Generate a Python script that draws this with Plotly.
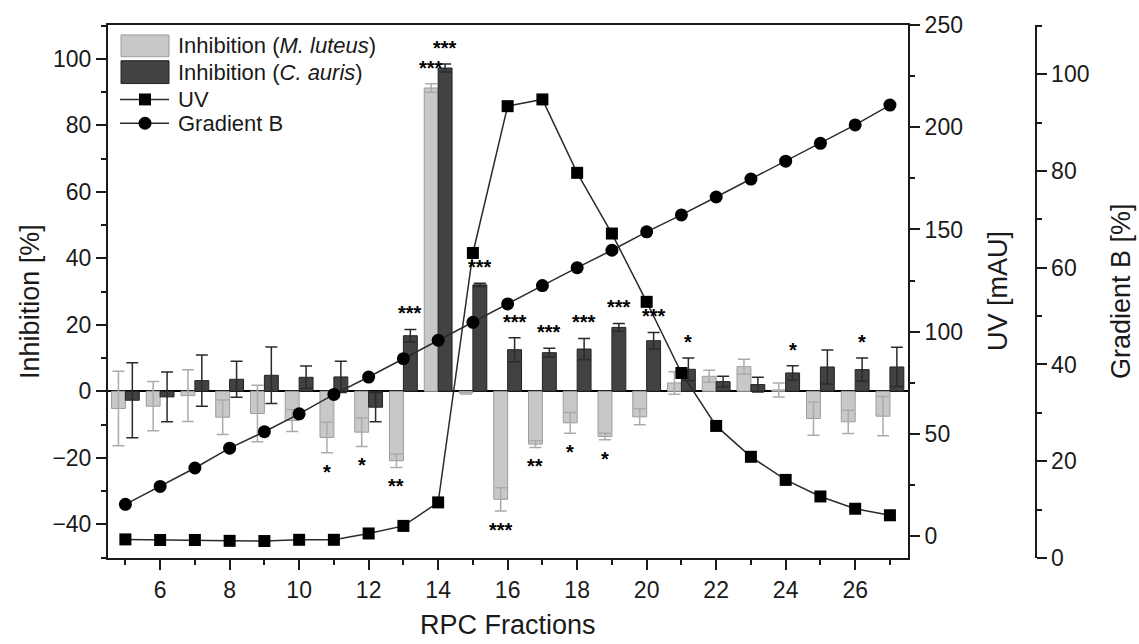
import plotly.graph_objects as go

# RPC fractions collected from the run
fractions = list(range(5, 28))

# Growth inhibition (%) with standard deviation per fraction
inh_luteus = [-5.2, -4.5, -1.3, -7.8, -6.7, -8.8, -13.9, -12.3, -20.9, 91.2, -0.5, -32.5,
              -15.9, -9.5, -13.6, -7.7, 2.5, 4.5, 7.4, 0.4, -8.2, -9.2, -7.5]
err_luteus = [11.2, 7.4, 7.8, 5.2, 8.5, 3.3, 4.6, 4.3, 2.0, 1.3, 0.3, 3.5,
              1.0, 3.1, 1.0, 2.4, 3.4, 1.8, 2.2, 2.1, 5.0, 3.5, 5.9]
inh_auris = [-2.7, -1.7, 3.2, 3.6, 4.8, 4.2, 4.3, -4.8, 16.7, 97.2, 32.0, 12.5,
             11.6, 12.7, 19.2, 15.2, 6.6, 2.9, 2.0, 5.5, 7.3, 6.5, 7.3]
err_auris = [11.3, 7.5, 7.7, 5.4, 8.5, 3.4, 4.7, 4.4, 1.9, 1.2, 0.5, 3.6,
             1.3, 3.2, 1.2, 2.5, 3.4, 1.6, 2.2, 2.2, 5.1, 3.5, 5.9]

# Significance marks
sig_luteus = ["", "", "", "", "", "", "*", "*", "**", "***", "", "***",
              "**", "*", "*", "", "", "", "", "", "", "", ""]
sig_auris = ["", "", "", "", "", "", "", "", "***", "***", "***", "***",
             "***", "***", "***", "***", "*", "", "", "*", "", "*", ""]

# UV absorbance (mAU) and solvent gradient (% B)
uv = [-1.6, -1.9, -1.9, -2.3, -2.4, -1.8, -1.8, 1.3, 5.0, 16.5, 138.5, 210.3,
      213.6, 177.7, 148.0, 114.6, 79.8, 53.9, 38.8, 27.5, 19.4, 13.4, 10.2]
gradient = [11.1, 14.8, 18.6, 22.7, 26.1, 29.8, 33.8, 37.4, 41.2, 45.0, 48.7, 52.5,
            56.3, 60.0, 63.6, 67.4, 70.9, 74.6, 78.3, 82.0, 85.7, 89.5, 93.6]

FONT = "Liberation Sans, Arial, sans-serif"
LIGHT = "#c8c8c8"
DARK = "#424242"
INK = "#1a1a1a"

W, H = 1139, 644
ML, MR, MT, MB = 108, 60, 21, 86
PW, PH = W - ML - MR, H - MT - MB
PLOT_RIGHT = 908
GRAD_AXIS_X = 1035.5


def px_x(p):
    return (p - ML) / PW


def px_y(p):
    return (H - MB - p) / PH


fig = go.Figure()

fig.add_trace(go.Bar(
    x=fractions, y=inh_luteus, name="Inhibition (M. luteus)",
    marker=dict(color=LIGHT, line=dict(color="#9c9c9c", width=1)),
    error_y=dict(type="data", array=err_luteus, color="#ababab", thickness=1.5, width=6),
    showlegend=False,
))
fig.add_trace(go.Bar(
    x=fractions, y=inh_auris, name="Inhibition (C. auris)",
    marker=dict(color=DARK, line=dict(color="#222222", width=1)),
    error_y=dict(type="data", array=err_auris, color="#2a2a2a", thickness=1.5, width=6),
    showlegend=False,
))
fig.add_trace(go.Scatter(
    x=fractions, y=uv, name="UV", yaxis="y2", mode="lines+markers",
    line=dict(color="#2b2b2b", width=1.5),
    marker=dict(symbol="square", size=12, color="black"),
    showlegend=False, cliponaxis=False,
))
fig.add_trace(go.Scatter(
    x=fractions, y=gradient, name="Gradient B", yaxis="y3", mode="lines+markers",
    line=dict(color="#2b2b2b", width=1.5),
    marker=dict(symbol="circle", size=13, color="black"),
    showlegend=False, cliponaxis=False,
))

annotations = []
star_font = dict(size=20, color="black", family=FONT)
# significance marks above positive bars, below negative ones
for offset, vals, errs, sigs in ((-0.2, inh_luteus, err_luteus, sig_luteus),
                                 (0.2, inh_auris, err_auris, sig_auris)):
    for f, v, e, s in zip(fractions, vals, errs, sigs):
        if s:
            up = v >= 0
            annotations.append(dict(
                x=f + offset, y=v + e if up else v - e, text="<b>" + s + "</b>",
                showarrow=False, xanchor="center", yanchor="middle",
                yshift=16 if up else -19, font=star_font))

title_font = dict(size=27, color=INK, family=FONT)
titles = [
    ("Inhibition [%]", 30, 300, -90),
    ("UV [mAU]", 998, 289, -90),
    ("Gradient B [%]", 1121, 289, -90),
    ("RPC Fractions", 508, 626, 0),
]
for text, xc, yc, ang in titles:
    annotations.append(dict(text=text, x=px_x(xc), y=px_y(yc), xref="paper", yref="paper",
                            xanchor="center", yanchor="middle", textangle=ang,
                            showarrow=False, font=title_font))

# legend drawn in place at the upper left of the plot
legend_font = dict(size=22, color=INK, family=FONT)
legend_rows = [
    ("Inhibition (<i>M. luteus</i>)", 42),
    ("Inhibition (<i>C. auris</i>)", 68.5),
    ("UV", 96),
    ("Gradient B", 120),
]
for label, yc in legend_rows:
    annotations.append(dict(text=label, x=px_x(176), y=px_y(yc), xref="paper", yref="paper",
                            xanchor="left", yanchor="middle", showarrow=False, font=legend_font))

shapes = [
    dict(type="rect", xref="paper", yref="paper", x0=px_x(121), x1=px_x(169),
         y0=px_y(31), y1=px_y(53), fillcolor=LIGHT, line=dict(color="#9c9c9c", width=1)),
    dict(type="rect", xref="paper", yref="paper", x0=px_x(121), x1=px_x(169),
         y0=px_y(57), y1=px_y(80), fillcolor=DARK, line=dict(color="#222222", width=1)),
    dict(type="line", xref="paper", yref="paper", x0=px_x(120), x1=px_x(169),
         y0=px_y(96), y1=px_y(96), line=dict(color="#2b2b2b", width=1.5)),
    dict(type="rect", xref="paper", yref="paper", x0=px_x(139), x1=px_x(151),
         y0=px_y(90), y1=px_y(102), fillcolor="black", line=dict(width=0)),
    dict(type="line", xref="paper", yref="paper", x0=px_x(120), x1=px_x(169),
         y0=px_y(120), y1=px_y(120), line=dict(color="#2b2b2b", width=1.5)),
    dict(type="circle", xref="paper", yref="paper", x0=px_x(138.5), x1=px_x(151.5),
         y0=px_y(113.5), y1=px_y(126.5), fillcolor="black", line=dict(width=0)),
]

tick_font = dict(size=23, color=INK, family=FONT)
axis_common = dict(
    showline=True, linecolor=INK, linewidth=2, showgrid=False,
    ticks="outside", ticklen=10, tickwidth=2, tickcolor=INK,
    tickfont=tick_font,
)

fig.update_layout(
    width=W, height=H,
    margin=dict(l=ML, r=MR, t=MT, b=MB, pad=0),
    paper_bgcolor="white", plot_bgcolor="white",
    barmode="group", bargap=0.2, bargroupgap=0,
    font=dict(family=FONT, color=INK),
    showlegend=False,
    xaxis=dict(
        **axis_common, domain=[0, px_x(PLOT_RIGHT)], range=[4.5, 27.52],
        tickmode="array", tickvals=list(range(6, 27, 2)), mirror=True,
        minor=dict(dtick=1, tick0=5, ticks="outside", ticklen=5, tickwidth=2, tickcolor=INK),
        zeroline=False,
    ),
    yaxis=dict(
        **axis_common, range=[-50.15, 110.15], dtick=20, tick0=0,
        minor=dict(dtick=10, ticks="outside", ticklen=5, tickwidth=2, tickcolor=INK),
        zeroline=True, zerolinecolor="black", zerolinewidth=2,
    ),
    yaxis2=dict(
        **axis_common, overlaying="y", side="right", anchor="x",
        range=[-10.7, 250.0], dtick=50, tick0=0,
        minor=dict(dtick=25, ticks="outside", ticklen=5, tickwidth=2, tickcolor=INK),
        zeroline=False,
    ),
    yaxis3=dict(
        **axis_common, overlaying="y", side="right", anchor="free",
        position=px_x(GRAD_AXIS_X), range=[0, 110.15], dtick=20, tick0=0,
        minor=dict(dtick=10, ticks="outside", ticklen=5, tickwidth=2, tickcolor=INK),
        zeroline=False,
    ),
    annotations=annotations,
    shapes=shapes,
)

fig.write_html("out.html")
